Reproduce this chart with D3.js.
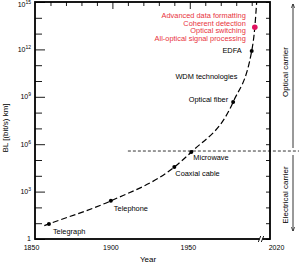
<!DOCTYPE html>
<html>
<head>
<meta charset="utf-8">
<script src="https://cdn.jsdelivr.net/npm/d3@7"></script>
<style>
  body { margin: 0; background: #fff; }
  svg { font-family: "Liberation Sans", Arial, sans-serif; }
</style>
</head>
<body>
<div class="chart"></div>
<script>
"use strict";

// DATA ----------------------------
const trendYears = [1856, 1859, 1899, 1940, 1951, 1978, 1990, 1992, 1993.2];
const trendValues = [7, 9, 260, 3.6e4, 3.2e5, 4.7e8, 8e11, 2.5e13, 1e15];

const eventNames = ["Telegraph", "Telephone", "Coaxial cable", "Microwave", "Optical fiber", "EDFA", "Advanced"];
const eventYears = [1859, 1899, 1940, 1951, 1978, 1990, 1992];
const eventValues = [9, 260, 3.6e4, 3.2e5, 4.7e8, 8e11, 2.5e13];

const redLabels = ["Advanced data formatting", "Coherent detection", "Optical switching", "All-optical signal processing"];
const wdmLabel = "WDM technologies";
const wdmYear = 1984, wdmValue = 1.8e10;

const yearTicks = [1850, 1900, 1950, 2020];
const topTicks = [1860, 1870, 1880, 1890, 1900, 1910, 1920, 1930, 1940, 1950, 1960, 1970, 1980, 1990];
const powerTicks = [0, 3, 6, 9, 12, 15];
const decadeTicks = d3.range(0, 16);

const carrierBoundary = 3.7e5;
const boundaryStart = 1910;
const breakYear = 1996;

// LAYOUT ----------------------------
const W = 299, H = 263;
const MARGIN = { top: 2, right: 29, bottom: 24, left: 35 };
const WIDTH = W - MARGIN.left - MARGIN.right,
  HEIGHT = H - MARGIN.top - MARGIN.bottom;
const RED = "#e8323c";

// label offsets from their markers [dx, dy, anchor]
const labelPos = {
  "Telegraph": [4, 7, "start"],
  "Telephone": [3, 8, "start"],
  "Coaxial cable": [1, 6, "start"],
  "Microwave": [2, 5, "start"],
  "Optical fiber": [-5, -3, "end"],
  "EDFA": [-10, -1, "end"]
};

const svg = d3.select(".chart").append("svg")
  .attr("width", W).attr("height", H);

const defs = svg.append("defs");
defs.append("marker").attr("id", "arr")
  .attr("viewBox", "0 0 10 10").attr("refX", 9).attr("refY", 5)
  .attr("markerWidth", 6).attr("markerHeight", 6).attr("orient", "auto")
  .append("path").attr("d", "M0,1 L9,5 L0,9").attr("fill", "none")
  .attr("stroke", "#000").attr("stroke-width", 1.3);

const g = svg.append("g")
  .attr("transform", `translate(${MARGIN.left},${MARGIN.top})`);

// scales (x axis has a break between 1996 and 2020)
const x = d3.scaleLinear().domain([1850, breakYear, 2020]).range([0, 226, WIDTH]);
const y = d3.scaleLog().domain([1, 1e15]).range([HEIGHT, 0]);

// left ticks (inward), longer at major
const yAxis = d3.axisLeft(y).tickValues(decadeTicks.map((p) => Math.pow(10, p)))
  .tickSize(-7).tickFormat("");
const yG = g.append("g").call(yAxis);
yG.select(".domain").remove();
yG.selectAll(".tick line")
  .attr("x2", (d) => (powerTicks.includes(Math.round(Math.log10(d))) ? 10 : 7))
  .attr("stroke-width", 0.9);

// right ticks
const yAxisR = d3.axisRight(y).tickValues(decadeTicks.map((p) => Math.pow(10, p)))
  .tickSize(-4).tickFormat("");
const yR = g.append("g").attr("transform", `translate(${WIDTH},0)`).call(yAxisR);
yR.select(".domain").remove();
yR.selectAll(".tick line").attr("stroke-width", 0.9);

// top ticks
const xTop = d3.axisTop(x).tickValues(topTicks).tickSize(-4).tickFormat("");
const xT = g.append("g").call(xTop);
xT.select(".domain").remove();
xT.selectAll(".tick line")
  .attr("y2", (d) => (d === 1900 || d === 1950 ? 7 : 4))
  .attr("stroke-width", 0.9);

// bottom labels
const xAxis = d3.axisBottom(x).tickValues(yearTicks).tickSize(0).tickPadding(6)
  .tickFormat(d3.format("d"));
const xG = g.append("g").attr("transform", `translate(0,${HEIGHT})`).call(xAxis);
xG.select(".domain").remove();
xG.selectAll(".tick text")
  .attr("font-size", 7).attr("font-family", "Liberation Sans, Arial, sans-serif")
  .attr("dx", (d) => (d === 2020 ? 6 : d === 1850 ? -4 : -2));

// y tick labels with superscripts
powerTicks.forEach((p) => {
  const t = g.append("text")
    .attr("x", -4).attr("y", Math.max(y(Math.pow(10, p)), 3))
    .attr("dy", "0.35em").attr("text-anchor", "end").attr("font-size", 7);
  if (p === 0) {
    t.text("1");
  } else {
    t.append("tspan").text("10");
    t.append("tspan").attr("dy", -3).attr("font-size", 5).text(p);
  }
});

// frame
g.append("rect").attr("width", WIDTH).attr("height", HEIGHT)
  .attr("fill", "none").attr("stroke", "#000").attr("stroke-width", 1.8);

// axis break
const bx = x(breakYear);
g.append("rect").attr("x", bx - 1.5).attr("y", HEIGHT - 2).attr("width", 3).attr("height", 4).attr("fill", "#fff");
[-1.5, 1.5].forEach((o) => {
  g.append("line").attr("x1", bx + o - 1.2).attr("y1", HEIGHT + 3)
    .attr("x2", bx + o + 1.2).attr("y2", HEIGHT - 3)
    .attr("stroke", "#000").attr("stroke-width", 0.9);
});

// carrier boundary
g.append("line")
  .attr("x1", x(boundaryStart)).attr("x2", W - MARGIN.left)
  .attr("y1", y(carrierBoundary)).attr("y2", y(carrierBoundary))
  .attr("stroke", "#000").attr("stroke-width", 0.8).attr("stroke-dasharray", "3,2");

// trend curve
const trend = trendYears.map((yr, i) => [yr, trendValues[i]]);
g.append("path").datum(trend)
  .attr("d", d3.line().x((d) => x(d[0])).y((d) => y(d[1])).curve(d3.curveMonotoneX))
  .attr("fill", "none").attr("stroke", "#000").attr("stroke-width", 1.2)
  .attr("stroke-dasharray", "6,3");

// markers and labels
const events = eventNames.map((n, i) => ({ name: n, year: eventYears[i], value: eventValues[i] }));
g.selectAll(".pt").data(events).enter().append("circle")
  .attr("class", "pt")
  .attr("cx", (d) => x(d.year)).attr("cy", (d) => y(d.value))
  .attr("r", (d) => (d.name === "Advanced" ? 2.8 : 2))
  .attr("fill", (d) => (d.name === "Advanced" ? "#e0115f" : "#000"));

events.filter((d) => labelPos[d.name]).forEach((d) => {
  const [dx, dy, anchor] = labelPos[d.name];
  g.append("text")
    .attr("x", x(d.year) + dx).attr("y", y(d.value) + dy)
    .attr("dy", "0.35em").attr("text-anchor", anchor)
    .attr("font-size", 7.4).text(d.name);
});

g.append("text")
  .attr("x", x(wdmYear) - 5).attr("y", y(wdmValue) - 1)
  .attr("dy", "0.35em").attr("text-anchor", "end")
  .attr("font-size", 7.4).text(wdmLabel);

const red = events.find((d) => d.name === "Advanced");
g.selectAll(".red").data(redLabels).enter().append("text")
  .attr("class", "red")
  .attr("x", x(red.year) - 9)
  .attr("y", (d, i) => y(red.value) - 12 + i * 7.7)
  .attr("dy", "0.35em").attr("text-anchor", "end")
  .attr("font-size", 7.4).attr("fill", RED).text((d) => d);

// axis titles
svg.append("text").attr("x", 148).attr("y", 262)
  .attr("text-anchor", "middle").attr("font-size", 8).text("Year");
svg.append("text")
  .attr("transform", "translate(8,128) rotate(-90)")
  .attr("text-anchor", "middle").attr("font-size", 8).text("BL [(bit/s) km]");

// carrier arrows
const ax = 293;
svg.append("line").attr("x1", ax).attr("x2", ax)
  .attr("y1", MARGIN.top + y(carrierBoundary) - 3).attr("y2", 4)
  .attr("stroke", "#000").attr("stroke-width", 0.8).attr("marker-end", "url(#arr)");
svg.append("line").attr("x1", ax).attr("x2", ax)
  .attr("y1", MARGIN.top + y(carrierBoundary) + 4).attr("y2", 231)
  .attr("stroke", "#000").attr("stroke-width", 0.8).attr("marker-end", "url(#arr)");
svg.append("text").attr("transform", "translate(288,72) rotate(-90)")
  .attr("text-anchor", "middle").attr("font-size", 8).text("Optical carrier");
svg.append("text").attr("transform", "translate(288,195) rotate(-90)")
  .attr("text-anchor", "middle").attr("font-size", 8).text("Electrical carrier");
</script>
</body>
</html>
